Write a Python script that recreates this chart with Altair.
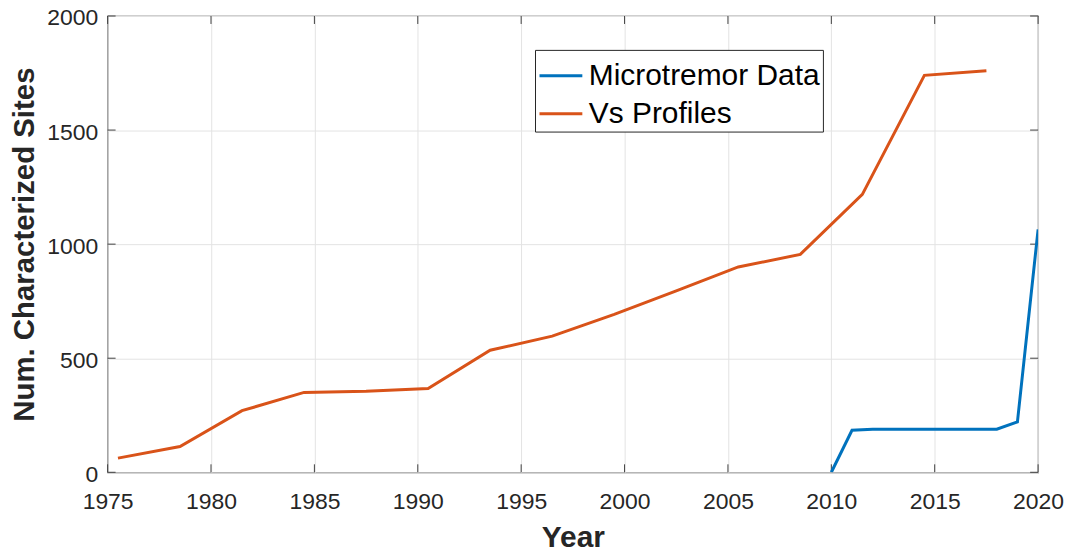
import altair as alt
import pandas as pd

# ---- data ----
mt_years = [2010, 2011, 2012, 2013, 2014, 2015, 2016, 2017, 2018, 2019, 2020]
mt_values = [0, 184, 189, 189, 189, 189, 189, 189, 189, 221, 1065]

vs_years = [1975.5, 1978.5, 1981.5, 1984.5, 1987.5, 1990.5, 1993.5, 1996.5,
            1999.5, 2002.5, 2005.5, 2008.5, 2011.5, 2014.5, 2017.5]
vs_values = [62, 113, 270, 350, 355, 367, 535, 597, 692, 795, 900, 955,
             1218, 1740, 1760]

series_names = ["Microtremor Data", "Vs Profiles"]
series_colors = ["#0072BD", "#D95319"]

x_ticks = [1975, 1980, 1985, 1990, 1995, 2000, 2005, 2010, 2015, 2020]
y_ticks = [0, 500, 1000, 1500, 2000]

df = pd.concat([
    pd.DataFrame({"Year": mt_years, "Value": mt_values, "Series": series_names[0]}),
    pd.DataFrame({"Year": vs_years, "Value": vs_values, "Series": series_names[1]}),
], ignore_index=True)

xticks_df = pd.DataFrame({"t": x_ticks})
yticks_df = pd.DataFrame({"t": y_ticks})

FONT = "Liberation Sans"
W, H = 934, 458

x_scale = alt.Scale(domain=[1975, 2020], nice=False, zero=False)
y_scale = alt.Scale(domain=[0, 2000], nice=False)

lines = alt.Chart(df).mark_line(strokeWidth=3, clip=True).encode(
    x=alt.X("Year:Q", scale=x_scale,
            axis=alt.Axis(values=x_ticks, format="d", grid=True, ticks=False,
                          domain=False, labelFlush=False, labelPadding=18,
                          labelFontSize=23, labelFont=FONT, labelColor="#262626",
                          gridColor="#e3e3e3", gridWidth=1,
                          title="Year", titleFont=FONT, titleFontSize=30,
                          titleFontWeight="bold", titleColor="#262626",
                          titleX=W / 2, titleY=74, titleBaseline="alphabetic",
                          titleAlign="center")),
    y=alt.Y("Value:Q", scale=y_scale,
            axis=alt.Axis(values=y_ticks, format="d", grid=True, ticks=False,
                          domain=False, labelPadding=10, labelFlush=False,
                          labelOffset=2,
                          labelFontSize=23, labelFont=FONT, labelColor="#262626",
                          gridColor="#e3e3e3", gridWidth=1,
                          title="Num. Characterized Sites", titleFont=FONT,
                          titleFontSize=29.5, titleFontWeight="bold",
                          titleColor="#262626", titleAngle=270,
                          titleX=-83, titleY=H / 2, titleBaseline="middle",
                          titleAlign="center")),
    color=alt.Color("Series:N",
                    scale=alt.Scale(domain=series_names, range=series_colors),
                    legend=alt.Legend(title=None, orient="none", legendX=429,
                                      legendY=34, symbolType="stroke",
                                      symbolSize=1849, symbolStrokeWidth=3,
                                      labelFontSize=30, labelFont=FONT,
                                      labelColor="#000000", labelOffset=5,
                                      rowPadding=0, padding=3,
                                      strokeColor="#262626", fillColor="white",
                                      labelLimit=400)),
    order="Year:Q",
)

tick_color = "#404040"
bottom_ticks = alt.Chart(xticks_df).mark_rule(color=tick_color, strokeWidth=1).encode(
    x=alt.X("t:Q", scale=x_scale), y=alt.value(H), y2=alt.value(H - 8))
top_ticks = alt.Chart(xticks_df).mark_rule(color=tick_color, strokeWidth=1).encode(
    x=alt.X("t:Q", scale=x_scale), y=alt.value(0), y2=alt.value(8))
left_ticks = alt.Chart(yticks_df).mark_rule(color=tick_color, strokeWidth=1).encode(
    y=alt.Y("t:Q", scale=y_scale), x=alt.value(0), x2=alt.value(8))
right_ticks = alt.Chart(yticks_df).mark_rule(color=tick_color, strokeWidth=1).encode(
    y=alt.Y("t:Q", scale=y_scale), x=alt.value(W), x2=alt.value(W - 8))

chart = alt.layer(bottom_ticks, top_ticks, left_ticks, right_ticks, lines).properties(
    width=W, height=H,
    autosize=alt.AutoSizeParams(type="none"),
    padding={"left": 100, "top": 7, "right": 28, "bottom": 84},
    background="white",
).configure_view(stroke=tick_color, strokeWidth=1.2)

chart.save("out.html", embed_options={"renderer": "svg", "actions": False})
